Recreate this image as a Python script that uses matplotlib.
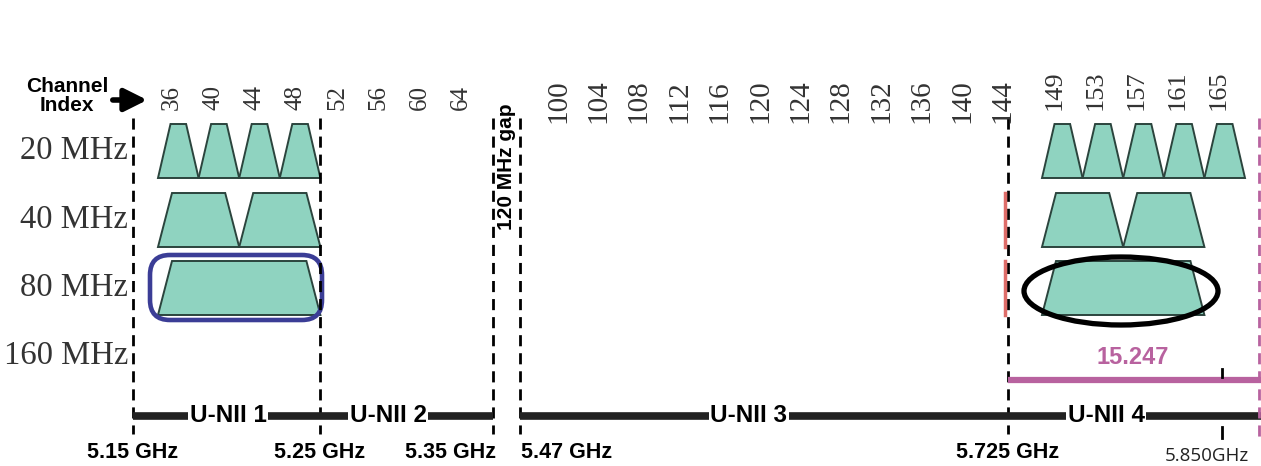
import matplotlib.pyplot as plt
from matplotlib.patches import Polygon, FancyBboxPatch, Ellipse

# channel numbers written along the top
low_channels = [36, 40, 44, 48, 52, 56, 60, 64]
mid_channels = [100, 104, 108, 112, 116, 120, 124, 128, 132, 136, 140, 144]
high_channels = [149, 153, 157, 161, 165]

# bandwidth rows, and how many 20 MHz channels each drawn block covers
bandwidths = ["20 MHz", "40 MHz", "80 MHz", "160 MHz"]
low_blocks = [[1, 1, 1, 1], [2, 2], [4], []]
high_blocks = [[1, 1, 1, 1, 1], [2, 2], [4], []]

# band edges and U-NII sub-bands
edge_labels = ["5.15 GHz", "5.25 GHz", "5.35 GHz", "5.47 GHz", "5.725 GHz"]
unii_labels = ["U-NII 1", "U-NII 2", "U-NII 3", "U-NII 4"]
extra_edge = "5.850GHz"
rule_label = "15.247"
gap_label = "120 MHz gap"

# ---- layout (diagram is laid out in pixel units) ----
W, H = 1261, 466
row_y = [151, 220, 288, 356]
row_half = 27
unit_w = 40.6
low_start, high_start = 158, 1042
edge_x = [133, 320, 493, 520, 1008]
unii_x = [228, 388, 749, 1106]
x_5850, x_purple = 1222, 1259
bar_y, purple_y = 416, 380
fill = "#8fd3c0"
edge_col = "#2b443d"
purple = "#b8629f"
serif = "Liberation Serif"
sans = "Liberation Sans"

fig = plt.figure(figsize=(W / 100, H / 100), dpi=100)
ax = fig.add_axes([0, 0, 1, 1])
ax.set_xlim(0, W)
ax.set_ylim(H, 0)
ax.axis("off")

# row labels
for y, bw in zip(row_y, bandwidths):
    ax.text(128, y, bw, ha="right", va="center", fontsize=23.5,
            family=serif, color="#333333")

# trapezoids
def draw_blocks(start, blocks):
    for r, row in enumerate(blocks):
        x = start
        top, bot = row_y[r] - row_half, row_y[r] + row_half
        for n in row:
            w = n * unit_w
            inset = 12.5 if n == 1 else 14
            pts = [(x, bot), (x + inset, top), (x + w - inset, top), (x + w, bot)]
            ax.add_patch(Polygon(pts, closed=True, fc=fill, ec=edge_col, lw=1.4))
            x += w

draw_blocks(low_start, low_blocks)
draw_blocks(high_start, high_blocks)

# channel numbers
for i, ch in enumerate(low_channels):
    ax.text(172 + i * 41.3, 110, str(ch), rotation=90, ha="center", va="bottom",
            fontsize=18, family=serif, color="#333333")
for i, ch in enumerate(mid_channels):
    ax.text(558 + i * 40.4, 123, str(ch), rotation=90, ha="center", va="bottom",
            fontsize=21, family=serif, color="#333333")
for i, ch in enumerate(high_channels):
    ax.text(1055 + i * 40.8, 110, str(ch), rotation=90, ha="center", va="bottom",
            fontsize=19, family=serif, color="#333333")

# "Channel Index" with arrow
ax.text(67, 96, "Channel\nIndex", ha="center", va="center", fontsize=15,
        fontweight="bold", family=sans, linespacing=1.0)
ax.annotate("", xy=(150, 100), xytext=(110, 100),
            arrowprops=dict(arrowstyle="-|>", lw=4, color="black", mutation_scale=34))

# dashed band edges
for x in edge_x:
    ax.plot([x, x], [118, 434], color="black", lw=2, ls=(0, (4, 2.5)))
ax.text((edge_x[2] + edge_x[3]) / 2, 167, gap_label, rotation=90, ha="center",
        va="center", fontsize=15, fontweight="bold", family=sans,
        bbox=dict(fc="white", ec="none", pad=0.5))

# red marks next to the 5.725 GHz line
for r in (1, 2):
    ax.plot([edge_x[4] - 3] * 2, [row_y[r] - row_half, row_y[r] + row_half],
            color="#d9534f", lw=2.5, alpha=0.85)

# U-NII bar
ax.plot([edge_x[0], edge_x[2]], [bar_y, bar_y], color="#222222", lw=5.5,
        solid_capstyle="butt")
ax.plot([edge_x[3], W], [bar_y, bar_y], color="#222222", lw=5.5,
        solid_capstyle="butt")
for x, lab in zip(unii_x, unii_labels):
    ax.text(x, bar_y, lab, ha="center", va="center", fontsize=17.5,
            fontweight="bold", family=sans,
            bbox=dict(fc="white", ec="none", pad=1.0))

# frequency labels
ax.text(edge_x[0], 452, edge_labels[0], ha="center", va="center", fontsize=15.5,
        fontweight="bold", family=sans)
ax.text(edge_x[1], 452, edge_labels[1], ha="center", va="center", fontsize=15.5,
        fontweight="bold", family=sans)
ax.text(edge_x[2] + 3, 452, edge_labels[2], ha="right", va="center", fontsize=15.5,
        fontweight="bold", family=sans)
ax.text(edge_x[3] + 1, 452, edge_labels[3], ha="left", va="center", fontsize=15.5,
        fontweight="bold", family=sans)
ax.text(edge_x[4], 452, edge_labels[4], ha="center", va="center", fontsize=15.5,
        fontweight="bold", family=sans)
ax.text(1207, 456, extra_edge, ha="center", va="center", fontsize=13.5,
        family="Open Sans", color="#222222")
ax.plot([x_5850, x_5850], [427, 438], color="black", lw=2)

# 15.247 band
ax.plot([x_purple, x_purple], [118, 440], color=purple, lw=2, ls=(0, (4, 2.5)))
ax.plot([edge_x[4], W], [purple_y, purple_y], color=purple, lw=4.5,
        solid_capstyle="butt")
ax.plot([x_5850, x_5850], [369, 377], color="black", lw=2)
ax.text(1133, 357, rule_label, ha="center", va="center", fontsize=17,
        fontweight="bold", family=sans, color=purple)

# hand-drawn highlights
ax.add_patch(FancyBboxPatch((150, 255), 172, 65,
                            boxstyle="round,pad=0,rounding_size=20",
                            fc="none", ec="#3b3d96", lw=3.3))
ax.add_patch(Ellipse((1121, 291), 194, 68, fc="none", ec="black", lw=3.8))

fig.savefig("out.png", dpi=100)
